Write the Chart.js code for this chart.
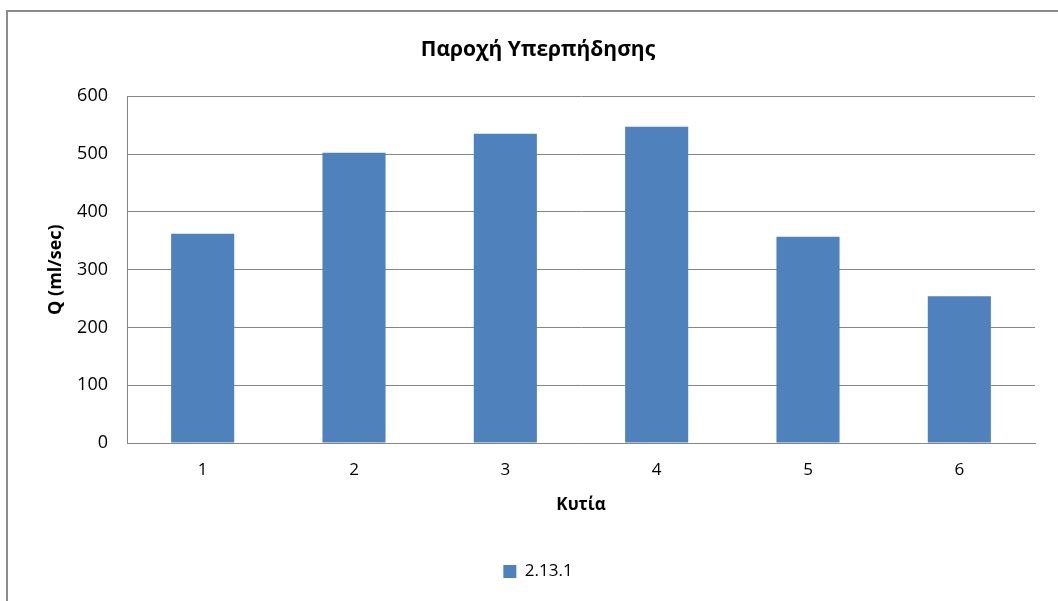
<!DOCTYPE html>
<html lang="el">
<head>
  <meta charset="UTF-8">
  <title>Παροχή Υπερπήδησης</title>
  <script src="https://cdn.jsdelivr.net/npm/chart.js@4.4.3/dist/chart.umd.min.js"></script>
  <style>
    html, body { margin: 0; padding: 0; background: #fff; overflow: hidden; }
    .frame {
      position: absolute;
      left: 6px;
      top: 10px;
      width: 1060px;
      height: 600px;
      border: 2px solid #8c8c8c;
      background: #fff;
    }
  </style>
</head>
<body>
  <div class="frame">
    <canvas id="chart" width="1060" height="600"></canvas>
  </div>

  <script>
    // Δεδομένα
    const categories = ['1', '2', '3', '4', '5', '6'];
    const seriesName = '2.13.1';
    const flowValues = [362, 502, 535, 547, 357, 254];
    const yTicks = [0, 100, 200, 300, 400, 500, 600];

    const font = '"Open Sans", "DejaVu Sans", sans-serif';
    const gridGray = '#868686';

    new Chart(document.getElementById('chart').getContext('2d'), {
      type: 'bar',
      data: {
        labels: categories,
        datasets: [{
          label: seriesName,
          data: flowValues,
          backgroundColor: '#4f81bd',
          borderWidth: 0,
          categoryPercentage: 1,
          barPercentage: 0.417
        }]
      },
      options: {
        responsive: false,
        animation: false,
        layout: { padding: { top: 0, left: 33, right: 33, bottom: 22 } },
        scales: {
          x: {
            grid: { display: false, drawTicks: false },
            border: { color: gridGray, width: 1 },
            ticks: { color: '#000', font: { family: font, size: 17 }, padding: 17 },
            title: {
              display: true,
              text: 'Κυτία',
              color: '#000',
              font: { family: font, size: 17, weight: 'bold' },
              padding: { top: 0, bottom: 38 }
            },
            afterFit: s => { s.height = 110; }
          },
          y: {
            min: 0,
            max: 600,
            afterBuildTicks: s => { s.ticks = yTicks.map(v => ({ value: v })); },
            grid: { color: gridGray, lineWidth: 1, drawTicks: false },
            border: { color: gridGray, width: 1 },
            ticks: { color: '#000', font: { family: font, size: 18 }, padding: 19 },
            title: {
              display: true,
              text: 'Q (ml/sec)',
              color: '#000',
              font: { family: font, size: 18, weight: 'bold' },
              padding: { top: 4, bottom: 0 }
            },
            afterFit: s => { s.width = 86; }
          }
        },
        plugins: {
          title: {
            display: true,
            text: 'Παροχή Υπερπήδησης',
            color: '#000',
            font: { family: font, size: 21, weight: 'bold' },
            padding: { top: 25, bottom: 34 }
          },
          legend: {
            position: 'bottom',
            labels: {
              color: '#000',
              font: { family: font, size: 17 },
              boxWidth: 13,
              boxHeight: 13,
              padding: 10
            }
          },
          tooltip: { enabled: false }
        }
      }
    });
  </script>
</body>
</html>
